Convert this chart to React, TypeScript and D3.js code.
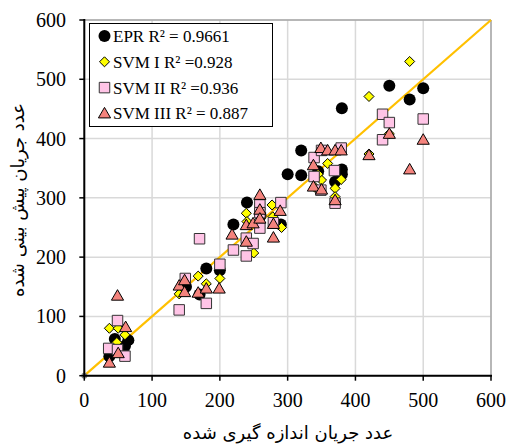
import React from "react";
import * as d3 from "d3";

const W = 508, H = 446;
const M = { left: 84.3, right: 491, top: 20, bottom: 375.7 };

const ticks = [0, 100, 200, 300, 400, 500, 600];

const eprData: [number, number][] = [[37,33],[45,62],[65,60],[60,50],[50,45],[170,137],[180,181],[200,178],[220,255],[240,292],[290,255],[300,340],[320,380],[320,338],[370,327],[380,348],[380,340],[380,451],[450,489],[480,466],[500,485],[150,150],[260,270],[345,345]];
const svm1Data: [number, number][] = [[37,80],[48,56],[60,69],[50,80],[140,138],[168,168],[180,155],[200,164],[239,274],[250,207],[259,290],[277,288],[291,250],[278,268],[340,318],[350,330],[359,358],[370,316],[370,302],[379,331],[420,471],[420,374],[450,408],[480,530],[345,340],[260,275],[240,260]];
const svm2Data: [number, number][] = [[36,46],[49,44],[60,33],[49,93],[140,111],[149,164],[180,122],[170,231],[200,188],[220,212],[239,232],[239,202],[249,223],[259,288],[259,249],[259,275],[279,258],[290,292],[339,368],[339,336],[349,313],[369,346],[370,291],[379,384],[440,441],[450,427],[440,398],[500,433],[350,380]];
const svm3Data: [number, number][] = [[37,22],[50,38],[61,82],[49,135],[140,152],[148,161],[148,141],[168,140],[180,147],[199,147],[218,238],[239,254],[239,226],[249,257],[259,305],[259,280],[259,265],[279,256],[279,233],[289,278],[338,355],[338,319],[350,314],[349,384],[359,380],[370,380],[379,380],[370,296],[420,372],[450,408],[480,348],[500,398]];

const legendLabels = ["EPR R² = 0.9661", "SVM I R² =0.928", "SVM II R² =0.936", "SVM III R² = 0.887"];
const xTitle = "عدد جریان اندازه گیری شده";
const yTitle = "عدد جریان پیش بینی شده";

const COL = { yellow: "#FFFF00", pink: "#FFC4E6", salmon: "#F4837D", line: "#FFC000" };

const x = d3.scaleLinear().domain([0, 600]).range([M.left, M.right]);
const y = d3.scaleLinear().domain([0, 600]).range([M.bottom, M.top]);

const circleSym = d3.symbol().type(d3.symbolCircle).size(Math.PI * 36);
const diamondSym = d3.symbol().type(d3.symbolDiamond2).size(64);
const squareSym = d3.symbol().type(d3.symbolSquare).size(110);
const triSym = d3.symbol().type(d3.symbolTriangle).size(64);

function Marker({ kind, cx, cy }: { kind: number; cx: number; cy: number }) {
  if (kind === 0) return <path d={circleSym()!} transform={`translate(${cx},${cy})`} fill="#000" />;
  if (kind === 1) return <path d={diamondSym()!} transform={`translate(${cx},${cy})`} fill={COL.yellow} stroke="#000" strokeWidth={1} />;
  if (kind === 2) return <path d={squareSym()!} transform={`translate(${cx},${cy})`} fill={COL.pink} stroke="#333" strokeWidth={1} />;
  return <path d={triSym()!} transform={`translate(${cx},${cy + 1})`} fill={COL.salmon} stroke="#000" strokeWidth={1} />;
}

const serif: React.CSSProperties = { fontFamily: "Liberation Serif, DejaVu Serif, serif" };
const arab: React.CSSProperties = { fontFamily: "DejaVu Sans, Noto Sans, sans-serif" };

export default function App() {
  const series = [eprData, svm1Data, svm2Data, svm3Data];
  return (
    <svg width={W} height={H} style={{ position: "absolute", left: 0, top: 0, background: "#fff" }}>
      {ticks.map((t) => (
        <g key={"g" + t}>
          <line x1={x(t)} x2={x(t)} y1={M.top} y2={M.bottom} stroke="#D9D9D9" strokeWidth={1.5} />
          <line x1={M.left} x2={M.right} y1={y(t)} y2={y(t)} stroke="#D9D9D9" strokeWidth={1.5} />
        </g>
      ))}
      <line x1={M.left} x2={M.right} y1={M.top} y2={M.top} stroke="#8c8c8c" strokeWidth={1} />
      <line x1={M.right} x2={M.right} y1={M.top} y2={M.bottom} stroke="#8c8c8c" strokeWidth={1} />
      <line x1={x(0)} y1={y(0)} x2={x(600)} y2={y(600)} stroke={COL.line} strokeWidth={2.2} />
      {series.map((s, k) => (
        <g key={"s" + k}>
          {s.map((p, i) => (
            <Marker key={i} kind={k} cx={x(p[0])} cy={y(p[1])} />
          ))}
        </g>
      ))}
      <circle cx={x(0)} cy={y(0)} r={3} fill="#888" />
      <line x1={M.left} x2={M.left} y1={M.top - 1} y2={M.bottom + 1} stroke="#000" strokeWidth={2} />
      <line x1={M.left - 1} x2={M.right + 1} y1={M.bottom} y2={M.bottom} stroke="#000" strokeWidth={2} />
      {ticks.map((t) => (
        <g key={"t" + t}>
          <line x1={x(t)} x2={x(t)} y1={M.bottom} y2={M.bottom + 5} stroke="#000" strokeWidth={1.5} />
          <line x1={M.left - 5} x2={M.left} y1={y(t)} y2={y(t)} stroke="#000" strokeWidth={1.5} />
          <text x={x(t)} y={407} textAnchor="middle" style={serif} fontSize={20} fill="#000">{t}</text>
          <text x={66} y={y(t) + 7} textAnchor="end" style={serif} fontSize={20} fill="#000">{t}</text>
        </g>
      ))}
      <text x={288} y={439} textAnchor="middle" style={arab} fontSize={18} fill="#000" direction="rtl">{xTitle}</text>
      <text transform={`translate(24,200) rotate(-90)`} textAnchor="middle" style={arab} fontSize={18} fill="#000" direction="rtl">{yTitle}</text>
      <rect x={89.5} y={23.5} width={183} height={103} fill="#fff" stroke="#000" strokeWidth={1} />
      {legendLabels.map((l, i) => {
        const ly = 36 + i * 25.8;
        return (
          <g key={"l" + i}>
            <Marker kind={i} cx={104.5} cy={ly} />
            <text x={113} y={ly + 6} style={serif} fontSize={17} fill="#000">{l}</text>
          </g>
        );
      })}
    </svg>
  );
}
